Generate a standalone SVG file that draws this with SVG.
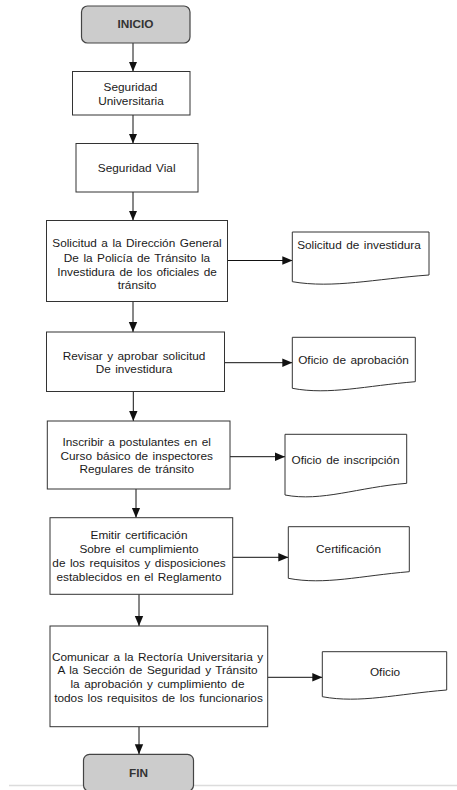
<svg xmlns="http://www.w3.org/2000/svg" width="457" height="790" viewBox="0 0 457 790">
<defs>
<marker id="ah" markerUnits="userSpaceOnUse" markerWidth="10" markerHeight="10" viewBox="0 0 10 10" refX="10" refY="5" orient="auto">
<path d="M0,0.8 L10,5 L0,9.2 Z" fill="#111"/>
</marker>
<style>
.box{fill:#fff;stroke:#333;stroke-width:1}
.term{fill:#cccccc;stroke:#444;stroke-width:1.2}
.doc{fill:#fff;stroke:#333;stroke-width:1}
.t{font-family:"Liberation Sans",Arial,sans-serif;font-size:11.8px;fill:#1a1a1a;text-anchor:middle;word-spacing:1.2px}
.tb{font-weight:bold;fill:#333}
.c{stroke:#111;stroke-width:1;fill:none;marker-end:url(#ah)}
</style>
</defs>
<rect width="457" height="790" fill="#fff"/>
<line x1="9" y1="785.5" x2="457" y2="785.5" stroke="#dcdcdc" stroke-width="1.5"/>

<g id="connectors">
<line class="c" x1="133" y1="43" x2="133" y2="71.5"/>
<line class="c" x1="133" y1="115" x2="133" y2="143.5"/>
<line class="c" x1="133" y1="192" x2="133" y2="220.5"/>
<line class="c" x1="227.5" y1="260.5" x2="292.3" y2="260.5"/>
<line class="c" x1="133" y1="301.5" x2="133" y2="332"/>
<line class="c" x1="224.5" y1="362.7" x2="292.3" y2="362.7"/>
<line class="c" x1="133.3" y1="391.5" x2="133.3" y2="421"/>
<line class="c" x1="230" y1="456.7" x2="285" y2="456.7"/>
<line class="c" x1="136" y1="489" x2="136" y2="517.7"/>
<line class="c" x1="232.7" y1="557.3" x2="288.3" y2="557.3"/>
<line class="c" x1="139" y1="594.3" x2="139" y2="626"/>
<line class="c" x1="267.7" y1="677.3" x2="322.3" y2="677.3"/>
<line class="c" x1="139" y1="726.7" x2="139" y2="754.3"/>
</g>

<g id="inicio">
<rect class="term" x="81.5" y="6" width="108.5" height="37" rx="6"/>
<text class="t tb" x="135.5" y="28">INICIO</text>
</g>

<g id="seguridad-universitaria">
<rect class="box" x="72.5" y="71.5" width="117.5" height="43.5"/>
<text class="t" x="130.5" y="91">Seguridad</text>
<text class="t" x="131" y="104.5">Universitaria</text>
</g>

<g id="seguridad-vial">
<rect class="box" x="76" y="143.5" width="122" height="48.5"/>
<text class="t" x="136.7" y="172">Seguridad Vial</text>
</g>

<g id="solicitud">
<rect class="box" x="46.5" y="220.5" width="181" height="81"/>
<text class="t" x="137" y="247">Solicitud a la Dirección General</text>
<text class="t" x="137" y="261.5">De la Policía de Tránsito la</text>
<text class="t" x="137" y="275.5">Investidura de los oficiales de</text>
<text class="t" x="137" y="289">tránsito</text>
</g>

<g id="doc-solicitud">
<path class="doc" d="M292.3,232 H429 V275 C374.3,279 333.3,288.7 292.3,281.7 Z"/>
<text class="t" x="359" y="249">Solicitud de investidura</text>
</g>

<g id="revisar">
<rect class="box" x="46.5" y="332" width="178" height="59.5"/>
<text class="t" x="134" y="359.7">Revisar y aprobar solicitud</text>
<text class="t" x="134" y="373">De investidura</text>
</g>

<g id="doc-aprobacion">
<path class="doc" d="M292.3,337.3 H415.3 V381.7 C366.1,385.7 329.2,395.3 292.3,388.3 Z"/>
<text class="t" x="353.5" y="364">Oficio de aprobación</text>
</g>

<g id="inscribir">
<rect class="box" x="47.3" y="421" width="182.7" height="68"/>
<text class="t" x="136.7" y="446">Inscribir a postulantes en el</text>
<text class="t" x="136.7" y="459.5">Curso básico de inspectores</text>
<text class="t" x="136.7" y="472.5">Regulares de tránsito</text>
</g>

<g id="doc-inscripcion">
<path class="doc" d="M285,434.3 H406.7 V483.3 C358,487.3 321.5,502 285,495 Z"/>
<text class="t" x="345.5" y="464">Oficio de inscripción</text>
</g>

<g id="emitir">
<rect class="box" x="50" y="517.7" width="182.7" height="76.6"/>
<text class="t" x="139" y="539">Emitir certificación</text>
<text class="t" x="139" y="553">Sobre el cumplimiento</text>
<text class="t" x="139" y="566.7">de los requisitos y disposiciones</text>
<text class="t" x="139" y="580.7">establecidos en el Reglamento</text>
</g>

<g id="doc-certificacion">
<path class="doc" d="M288.3,526.7 H409.3 V571.7 C360.9,575.7 324.6,585.3 288.3,578.3 Z"/>
<text class="t" x="348.5" y="553.3">Certificación</text>
</g>

<g id="comunicar">
<rect class="box" x="50" y="626" width="217.7" height="100.7"/>
<text class="t" x="157.5" y="660.7">Comunicar a la Rectoría Universitaria y</text>
<text class="t" x="157.5" y="674.3">A la Sección de Seguridad y Tránsito</text>
<text class="t" x="157.5" y="688">la aprobación y cumplimiento de</text>
<text class="t" x="158.5" y="701.7">todos los requisitos de los funcionarios</text>
</g>

<g id="doc-oficio">
<path class="doc" d="M322.3,651.7 H446.7 V690 C396.9,694 359.6,703.7 322.3,696.7 Z"/>
<text class="t" x="385" y="675.7">Oficio</text>
</g>

<g id="fin">
<rect class="term" x="83.5" y="754.3" width="110" height="37" rx="6"/>
<text class="t tb" x="138.5" y="777">FIN</text>
</g>
</svg>
